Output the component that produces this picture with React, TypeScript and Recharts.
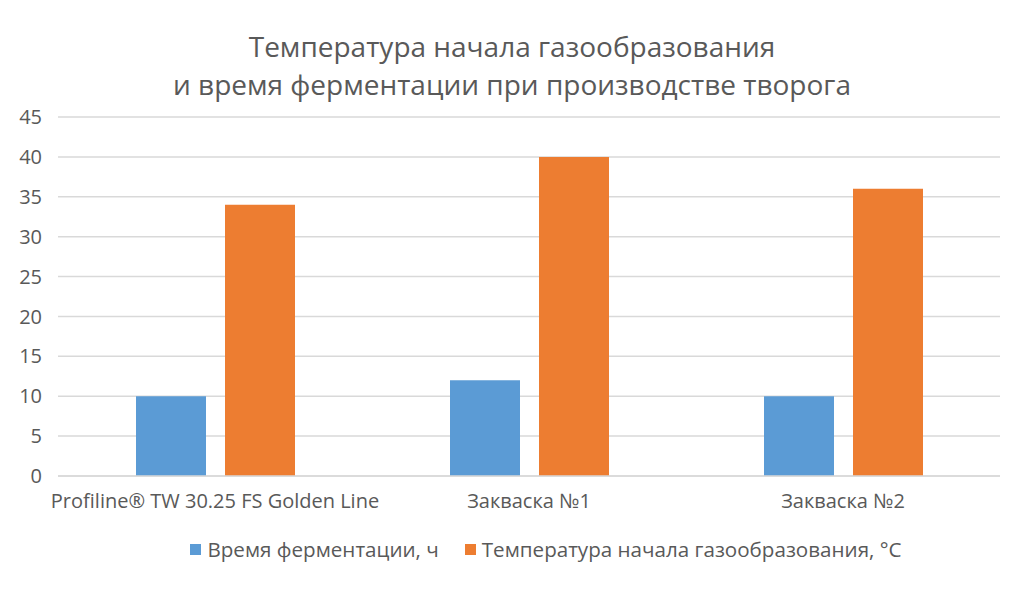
import React from "react";
import { Bar, BarChart, CartesianGrid, XAxis, YAxis } from "recharts";

const categories = ["Profiline® TW 30.25 FS Golden Line", "Закваска №1", "Закваска №2"];
const fermentationHours = [10, 12, 10];
const gasTemperature = [34, 40, 36];
const yTicks = [0, 5, 10, 15, 20, 25, 30, 35, 40, 45];

const seriesNames = {
  time: "Время ферментации, ч",
  temp: "Температура начала газообразования, °C",
};

const BLUE = "#5B9BD5";
const ORANGE = "#ED7D31";
const TEXT = "#595959";
const FONT = "'Open Sans', sans-serif";

const data = categories.map((name, i) => ({
  name,
  time: fermentationHours[i],
  temp: gasTemperature[i],
}));

const legendItems = [
  { label: seriesNames.time, color: BLUE },
  { label: seriesNames.temp, color: ORANGE },
];

export default function App() {
  return (
    <div
      style={{
        position: "absolute",
        left: 0,
        top: 0,
        width: 1024,
        height: 589,
        background: "#fff",
        fontFamily: FONT,
      }}
    >
      <div
        style={{
          position: "absolute",
          top: 27,
          left: 0,
          width: 1024,
          textAlign: "center",
          fontSize: 28,
          lineHeight: "38px",
          color: TEXT,
        }}
      >
        Температура начала газообразования
        <br />
        и время ферментации при производстве творога
      </div>
      <BarChart
        width={1024}
        height={589}
        data={data}
        margin={{ top: 117, right: 24, bottom: 83, left: 0 }}
        barGap={19}
        barSize={70}
      >
        <CartesianGrid vertical={false} stroke="#D9D9D9" strokeWidth={1.5} />
        <XAxis
          dataKey="name"
          height={30}
          axisLine={{ stroke: "#D9D9D9", strokeWidth: 1.5 }}
          tickLine={false}
          tick={{ fill: TEXT, fontSize: 20, fontFamily: FONT }}
          tickMargin={12}
          interval={0}
        />
        <YAxis
          domain={[0, 45]}
          ticks={yTicks}
          width={58}
          axisLine={false}
          tickLine={false}
          tick={{ fill: TEXT, fontSize: 20, fontFamily: FONT }}
          tickMargin={10}
        />
        <Bar dataKey="time" name={seriesNames.time} fill={BLUE} isAnimationActive={false} />
        <Bar dataKey="temp" name={seriesNames.temp} fill={ORANGE} isAnimationActive={false} />
      </BarChart>
      <div
        style={{
          position: "absolute",
          top: 534,
          left: 68,
          width: 956,
          display: "flex",
          justifyContent: "center",
          gap: 26,
          fontSize: 20.6,
          lineHeight: "30px",
          color: TEXT,
        }}
      >
        {legendItems.map((it) => (
          <span key={it.label} style={{ display: "flex", alignItems: "center" }}>
            <span
              style={{
                display: "inline-block",
                width: 11,
                height: 11,
                background: it.color,
                marginRight: 6,
              }}
            />
            {it.label}
          </span>
        ))}
      </div>
    </div>
  );
}
